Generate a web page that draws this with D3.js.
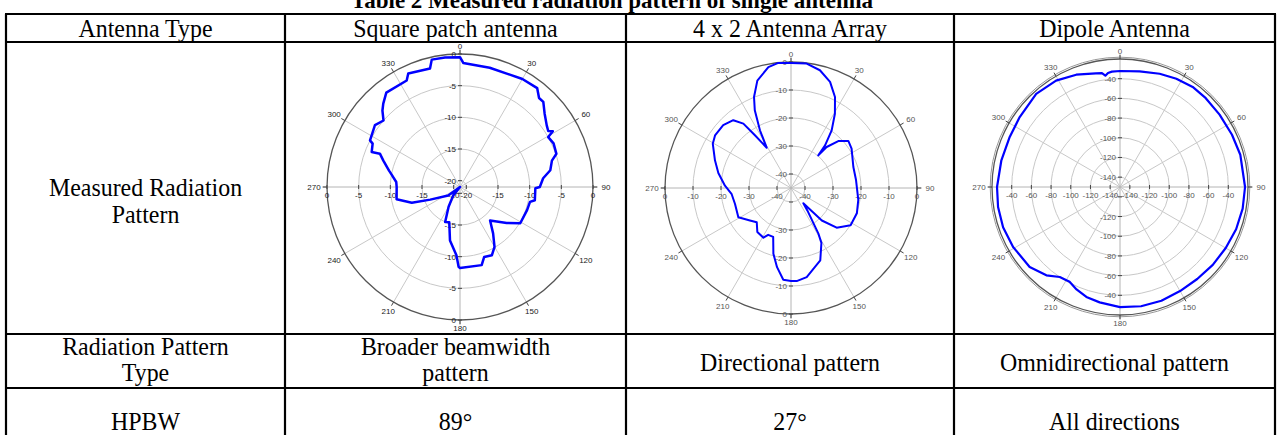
<!DOCTYPE html>
<meta charset="utf-8">
<style>
body { margin: 0; background: #fff; }
text.cell { font-family: "Liberation Serif", "Times New Roman", serif; font-size: 26px; fill: #000; }
text.title { font-family: "Liberation Serif", "Times New Roman", serif; font-size: 23px; font-weight: bold; fill: #000; }
.grid { fill: none; stroke: #c8c8c8; stroke-width: 1; }
.spoke { stroke: #c8c8c8; stroke-width: 1; }
.axisline { stroke: #b4b4b4; stroke-width: 1; }
.rim { fill: none; stroke: #555; stroke-width: 1.3; }
.tick { stroke: #444; stroke-width: 1; }
.lab { font-family: Arial, "Liberation Sans", sans-serif; font-size: 8px; }
.pattern { fill: none; stroke: #0000ff; stroke-linejoin: round; }
.border { stroke: #000; stroke-width: 2.2; }
</style>
<svg width="1281" height="435"></svg>
<script src="https://d3js.org/d3.v7.min.js"></script>
<script>

// table text
var titleText = "Table 2 Measured radiation pattern of single antenna";
var headerRow = ["Antenna Type", "Square patch antenna", "4 x 2 Antenna Array", "Dipole Antenna"];
var measuredLabel = ["Measured Radiation", "Pattern"];
var patternRow = [["Radiation Pattern", "Type"], ["Broader beamwidth", "pattern"], ["Directional pattern"], ["Omnidirectional pattern"]];
var hpbwRow = ["HPBW", "89\u00b0", "27\u00b0", "All directions"];

// polar axis labels
var angleTicks = [0, 30, 60, 90, 120, 150, 180, 210, 240, 270, 300, 330];
var patchTicks = [-20, -15, -10, -5, 0];
var arrayTicks = [-40, -30, -20, -10, 0];
var dipoleTicks = [-140, -120, -100, -80, -60, -40];

// square patch antenna (deg, dB)
var patchAngle = [0, 1.5, 14, 30, 38, 41.6, 44.4, 49, 54.6, 57.6, 59, 60.5, 65, 71, 74, 79.5, 84, 90, 91, 100, 102, 109, 121,
  127.6, 138, 144.5, 150, 155, 161, 164.5, 180, 181, 183, 190.6, 197, 203, 210, 219, 225, 234, 247, 252, 259, 270, 274.5,
  281, 283, 289, 292.6, 291.6, 296.4, 297.4, 306, 311, 314.6, 317.4, 322, 333.4, 335.5, 345.8, 347.5, 353.4];
var patchGain = [-0.5, -1.4, -1.6, -1.3, -1.2, -2.2, -2.2, -3.3, -4.2, -4.5, -3.9, -5, -4.7, -4.9, -5.9, -6.5, -7.8, -8.4, -9.1, -9, -9.7, -9.8, -9.9,
  -11.7, -13.9, -12, -10.1, -9.1, -9.3, -8.2, -8.2, -8.4, -10.2, -12.4, -15.2, -15, -17.4, -19.3, -21, -18.7, -15.9, -13, -10.8, -11, -10.9,
  -9.9, -9.5, -8.2, -7.3, -6, -5.6, -5, -4.4, -5, -3.8, -3.1, -2.1, -2.2, -1.3, -1.7, -0.4, -0.4];

// 4 x 2 antenna array (deg, dB)
var arrayAngle = [0, 7.2, 13.8, 20.2, 25.8, 30.6, 35.2, 38.6, 39.9, 41, 45.2, 50.6, 57, 71.4, 83, 100, 111, 122, 131, 136.5, 141, 144,
  149, 151, 158, 170, 176.5, 180, 184.8, 190, 195, 200, 206, 209, 217.4, 225, 231.7, 241, 254, 264, 272, 281.7, 290, 299.5,
  304.7, 312.8, 319.6, 323.5, 325.6, 328.9, 331.7, 335, 337.9, 342.6, 349.4, 354.2];
var arrayGain = [-0.4, -0.2, -1.7, -4.6, -8.9, -14.2, -19.8, -25.5, -29.8, -25.6, -21.2, -18.5, -19.2, -21.5, -21.6, -20.6, -19.8, -19.9, -23.4, -29, -38, -35,
  -26, -22.6, -17.1, -12.7, -11.7, -11.8, -12.1, -16.3, -20.7, -26.4, -26.4, -24.7, -25.2, -27.7, -26.3, -23.5, -24.2, -23.7, -21.4, -18.5, -16.1, -12.9,
  -12, -12, -13.2, -16.4, -22.2, -28.2, -21.6, -14.4, -9.9, -4.8, -1.1, -0.1];

// dipole antenna (deg, dB)
var dipoleAngle = [0, 9.6, 19.3, 27.5, 36, 44, 54, 65, 75, 90, 100, 110, 120, 130, 140, 150, 160, 170, 180, 190, 197, 203, 208,
  213.8, 219.8, 228.5, 240.7, 251, 260.7, 270, 282.7, 294.4, 304.9, 318, 329, 338.7, 348, 351, 352.5, 354, 356];
var dipoleGain = [-32.2, -30.9, -28.1, -26, -24.4, -24.6, -25, -24.5, -23.5, -23, -23.5, -24.5, -26, -27, -28, -28, -27, -27, -28, -31, -33.2, -37, -40.9,
  -40, -33.2, -27.5, -25.5, -24.4, -24.5, -25.1, -26.5, -27, -25.8, -22.8, -23.9, -27.6, -32, -33, -36, -33.5, -32.5];

var svg = d3.select("svg");

// the last row runs past the bottom of the page
var colX = [6, 285, 626, 954, 1275],
    rowY = [14, 42, 334, 388, 460];

// title (top clipped by the page edge, as in the source)
svg.append("text").attr("class", "title")
    .attr("x", 612).attr("y", 8)
    .attr("text-anchor", "middle")
    .text(titleText);

// text in a cell, baseline of the first line at y0, slightly condensed
function cellText(c, lines, y0, lh) {
  var xc = (colX[c] + colX[c + 1]) / 2;
  lines.forEach(function(s, i) {
    svg.append("text").attr("class", "cell").attr("text-anchor", "middle")
      .attr("transform", "translate(" + xc + "," + (y0 + i * (lh || 26)) + ") scale(0.92,1)")
      .text(s);
  });
}

headerRow.forEach(function(s, i) { cellText(i, [s], 37); });
cellText(0, measuredLabel, 196, 27);
patternRow.forEach(function(s, i) { cellText(i, s, s.length > 1 ? 355 : 371); });
hpbwRow.forEach(function(s, i) { cellText(i, [s], 430); });

// polar plots
var plots = [
  {cx: 460, cy: 187, R: 133, dom: [-21, 0], ticks: patchTicks, angle: patchAngle, gain: patchGain, width: 2.5, rim: 0, ink: "#222"},
  {cx: 791, cy: 188, R: 126, dom: [-45, 0], ticks: arrayTicks, angle: arrayAngle, gain: arrayGain, width: 2, rim: 0, ink: "#555"},
  {cx: 1120, cy: 187, R: 128, dom: [-150, -20], ticks: dipoleTicks, angle: dipoleAngle, gain: dipoleGain, width: 2.2, rim: -20, ink: "#555"}
];

plots.forEach(function(p) {
  var r = d3.scaleLinear().domain(p.dom).range([0, p.R]);
  var g = svg.append("g").attr("transform", "translate(" + p.cx + "," + p.cy + ")");
  var inner = p.ticks[0];

  // grid circles
  g.selectAll(".grid").data(p.ticks.filter(function(v) { return v !== p.rim; }))
    .enter().append("circle").attr("class", "grid").attr("r", function(v) { return r(v); });

  // spokes
  g.selectAll(".spoke").data(angleTicks.filter(function(a) { return a % 90 !== 0; }))
    .enter().append("line").attr("class", "spoke")
      .attr("x1", 0).attr("y1", 0)
      .attr("x2", function(a) { return p.R * Math.sin(a * Math.PI / 180); })
      .attr("y2", function(a) { return -p.R * Math.cos(a * Math.PI / 180); });

  // main axes
  g.append("line").attr("class", "axisline").attr("x1", -p.R - 5).attr("x2", p.R + 5).attr("y1", 0).attr("y2", 0);
  g.append("line").attr("class", "axisline").attr("y1", -p.R - 5).attr("y2", p.R + 5).attr("x1", 0).attr("x2", 0);

  g.append("circle").attr("class", "rim").attr("r", p.R);
  if (p.rim === -20) g.append("circle").attr("class", "rim").attr("r", p.R + 1.8).style("stroke", "#999").style("stroke-width", 1);

  // angle ticks + labels
  g.selectAll(".atick").data(angleTicks).enter().append("line").attr("class", "tick")
    .attr("x1", function(a) { return p.R * Math.sin(a * Math.PI / 180); })
    .attr("y1", function(a) { return -p.R * Math.cos(a * Math.PI / 180); })
    .attr("x2", function(a) { return (p.R + 4) * Math.sin(a * Math.PI / 180); })
    .attr("y2", function(a) { return -(p.R + 4) * Math.cos(a * Math.PI / 180); });

  g.selectAll(".alab").data(angleTicks).enter().append("text").attr("class", "lab")
    .attr("fill", p.ink)
    .attr("text-anchor", "middle")
    .attr("x", function(a) { var s = Math.sin(a * Math.PI / 180); return (p.R + 8 + 5 * Math.abs(s)) * s; })
    .attr("y", function(a) { var s = Math.sin(a * Math.PI / 180), c = Math.cos(a * Math.PI / 180); return -(p.R + 8 + 5 * Math.abs(s)) * c + 3; })
    .text(function(a) { return a; });

  // radial labels along the four axis directions
  p.ticks.forEach(function(v) {
    var d = r(v);
    [[0, -d], [0, d]].forEach(function(q, k) {
      g.append("line").attr("class", "tick").attr("x1", -2).attr("x2", 2).attr("y1", q[1]).attr("y2", q[1]);
      if (k === 1 && v === inner) return;
      g.append("text").attr("class", "lab").attr("fill", p.ink).attr("text-anchor", "end")
        .attr("x", -4).attr("y", q[1] + 3).text(v);
    });
    [[-d, 0], [d, 0]].forEach(function(q) {
      g.append("line").attr("class", "tick").attr("x1", q[0]).attr("x2", q[0]).attr("y1", -2).attr("y2", 2);
      g.append("text").attr("class", "lab").attr("fill", p.ink).attr("text-anchor", "middle")
        .attr("x", q[0]).attr("y", 11).text(v);
    });
  });

  // measured pattern
  var pts = p.angle.map(function(a, i) { return {a: a, g: p.gain[i]}; });
  var line = d3.lineRadial()
    .angle(function(d) { return d.a * Math.PI / 180; })
    .radius(function(d) { return r(d.g); })
    .curve(d3.curveLinearClosed);
  g.append("path").attr("class", "pattern").attr("stroke-width", p.width).attr("d", line(pts));
});

// table borders
rowY.forEach(function(y) {
  svg.append("line").attr("class", "border").attr("x1", colX[0] - 1).attr("x2", colX[4] + 1).attr("y1", y).attr("y2", y);
});
colX.forEach(function(x) {
  svg.append("line").attr("class", "border").attr("x1", x).attr("x2", x).attr("y1", rowY[0]).attr("y2", rowY[4]);
});

</script>
